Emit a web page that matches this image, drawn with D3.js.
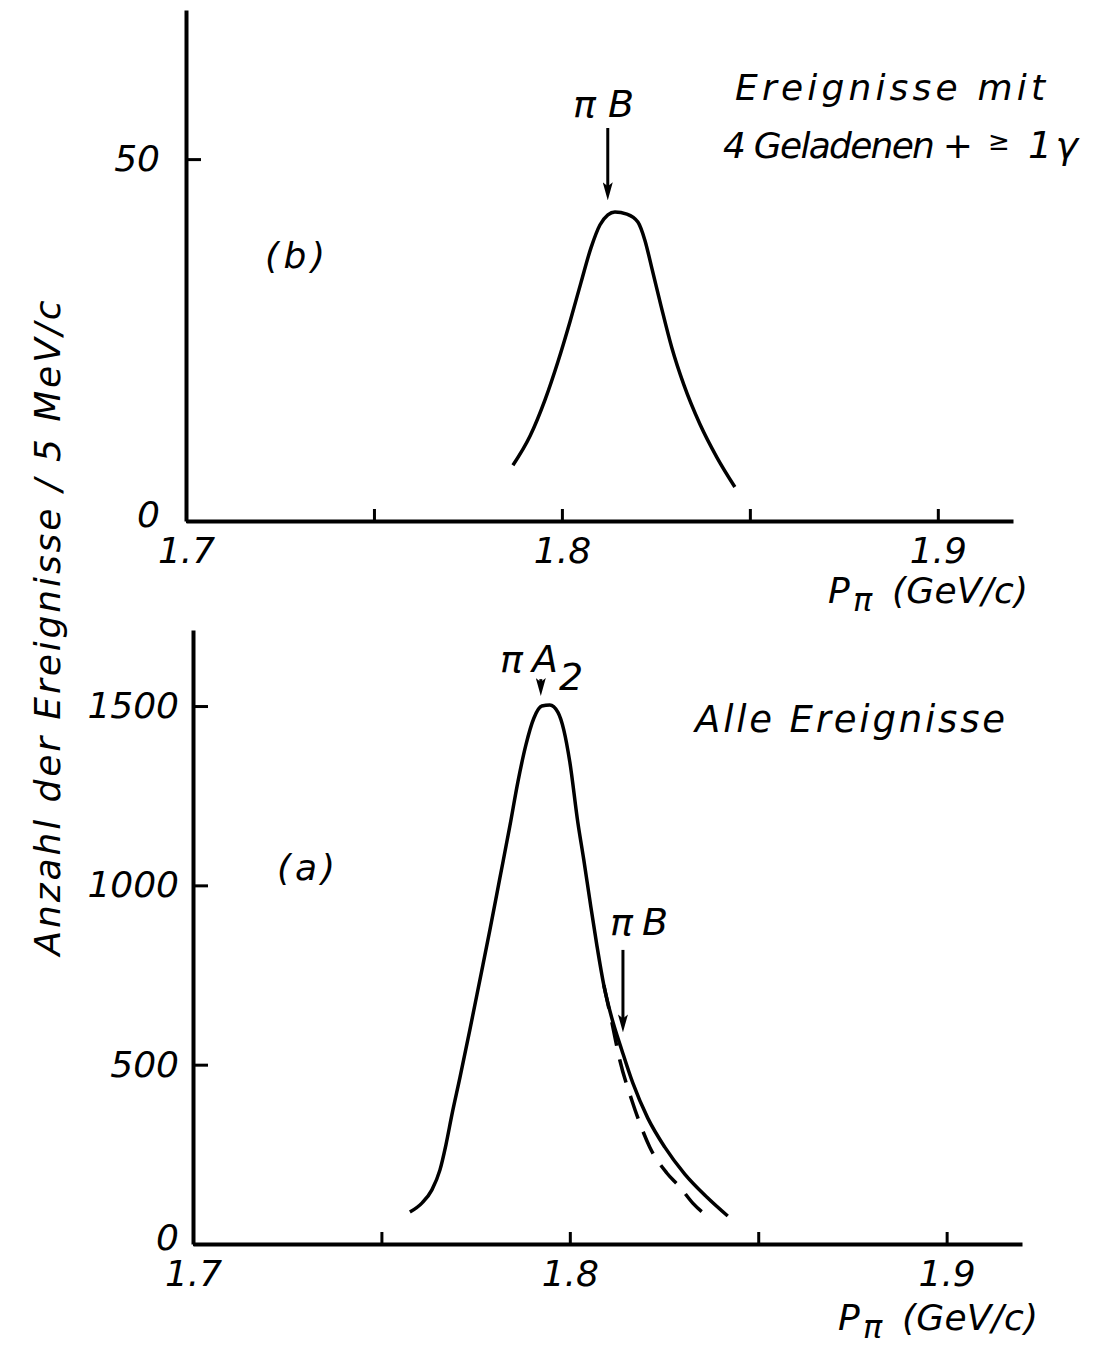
<!DOCTYPE html>
<html>
<head>
<meta charset="utf-8">
<script src="https://cdn.jsdelivr.net/npm/d3@7"></script>
<style>
  body { margin: 0; background: #fff; }
  text { font-family: "DejaVu Sans", sans-serif; font-style: italic; fill: #000; }
</style>
</head>
<body>
<svg id="chart" width="1119" height="1349"></svg>
<script>
// panel (b): events with 4 charged + >= 1 gamma
const momB = [1.78697, 1.79149, 1.79548, 1.79894, 1.80213, 1.80505, 1.80771, 1.81011, 1.81223, 1.8141, 1.81729, 1.82021, 1.82207, 1.82394, 1.82633, 1.82926, 1.83245, 1.8367, 1.84122, 1.84601]
const countB = [7.7, 11.7, 16.7, 22.0, 27.5, 32.9, 37.7, 40.9, 42.3, 42.7, 42.4, 41.3, 38.8, 34.9, 29.8, 23.9, 18.8, 13.4, 8.8, 4.7]

// panel (a): all events, solid = total
const momA = [1.75756, 1.76074, 1.7634, 1.76552, 1.76711, 1.7687, 1.77082, 1.77347, 1.77613, 1.77878, 1.78143, 1.78408, 1.78621, 1.78833, 1.79045, 1.79257, 1.79469, 1.79682, 1.79841, 1.8, 1.80212, 1.80371, 1.80531, 1.80716, 1.80902, 1.81114, 1.81379, 1.81671, 1.82069, 1.8252, 1.8305, 1.83634, 1.84191]
const countA = [89, 114, 151, 206, 276, 360, 463, 597, 736, 875, 1020, 1165, 1288, 1391, 1466, 1500, 1503, 1483, 1433, 1344, 1176, 1071, 959, 834, 722, 630, 541, 449, 351, 270, 195, 131, 78]
// dashed = without pi B
const momA2 = [1.80902, 1.81114, 1.81326, 1.81645, 1.81857, 1.82122, 1.82573, 1.82918, 1.83263, 1.83793]
const countA2 = [722, 619, 513, 401, 337, 270, 198, 159, 114, 67]

const xTicks = [1.7, 1.75, 1.8, 1.85, 1.9]
const xLabels = ["1.7", "", "1.8", "", "1.9"]
const yTicksB = [0, 50]
const yTicksA = [0, 500, 1000, 1500]

// arrows: momentum, from count, to count
const arrowsB = [{m: 1.8122, from: 54.3, to: 44.3}]
const arrowsA = [{m: 1.7923, from: 1575, to: 1528}, {m: 1.8141, from: 820, to: 590}]

const svg = d3.select("#chart")

svg.append("defs").append("marker")
  .attr("id", "head")
  .attr("viewBox", "0 0 18 10")
  .attr("refX", 6).attr("refY", 5)
  .attr("markerWidth", 18).attr("markerHeight", 10)
  .attr("markerUnits", "userSpaceOnUse")
  .attr("orient", "auto")
  .append("path")
  .attr("d", "M0,0 L18,5 L0,10 L4,5 Z")
  .attr("fill", "#000")

function drawPanel(o) {
  const x = d3.scaleLinear().domain([1.7, 1.92]).range(o.xr)
  const y = d3.scaleLinear().domain([0, o.ymax]).range(o.yr)

  const xAxis = svg.append("g")
    .attr("transform", `translate(0,${o.yr[0]})`)
    .call(d3.axisBottom(x).tickValues(xTicks)
      .tickFormat((d, i) => xLabels[i]).tickSize(-12).tickSizeOuter(0).tickPadding(16))
  const yAxis = svg.append("g")
    .attr("transform", `translate(${o.xr[0]},0)`)
    .call(d3.axisLeft(y).tickValues(o.yTicks).tickFormat(d3.format("d"))
      .tickSize(-15).tickSizeOuter(0).tickPadding(o.ypad))

  for (let ax of [xAxis, yAxis]) {
    ax.select(".domain").attr("stroke-width", 4)
    ax.selectAll(".tick line").attr("stroke-width", 3)
    ax.selectAll("text")
      .attr("font-size", 36)
      .attr("font-family", "DejaVu Sans")
      .style("font-style", "italic")
  }
  // zero label sits a bit above the axis in the original
  yAxis.selectAll(".tick text").filter(d => d == 0).attr("y", -6)

  const line = d3.line()
    .x(d => x(d[0]))
    .y(d => y(d[1]))
    .curve(d3.curveMonotoneX)

  for (let s of o.series) {
    svg.append("path")
      .datum(d3.zip(s.m, s.c))
      .attr("d", line)
      .attr("fill", "none")
      .attr("stroke", "#000")
      .attr("stroke-width", s.w)
      .attr("stroke-dasharray", s.dash)
  }

  for (let a of o.arrows) {
    svg.append("line")
      .attr("x1", x(a.m)).attr("x2", x(a.m))
      .attr("y1", y(a.from)).attr("y2", y(a.to) - 12)
      .attr("stroke", "#000").attr("stroke-width", 3)
      .attr("marker-end", "url(#head)")
  }
  return {x, y}
}

drawPanel({
  xr: [186, 1013], yr: [521, 10], ymax: 70.6, yTicks: yTicksB, ypad: 26,
  series: [{m: momB, c: countB, w: 3.5, dash: null}],
  arrows: arrowsB
})

drawPanel({
  xr: [193, 1022], yr: [1244, 630], ymax: 1712, yTicks: yTicksA, ypad: 14,
  series: [
    {m: momA, c: countA, w: 3.5, dash: null},
    {m: momA2, c: countA2, w: 3.5, dash: "24,14"}
  ],
  arrows: arrowsA
})

// labels
function label(txt, x, y, size, len) {
  const t = svg.append("text").attr("x", x).attr("y", y)
    .attr("font-size", size).text(txt)
  if (len) t.attr("textLength", len).attr("lengthAdjust", "spacing")
  return t
}

label("\u03c0 B", 573, 117, 38)
label("Ereignisse  mit", 735, 100, 36, 310)
label("4 Geladenen +", 723, 158, 36, 250)
label("\u2265", 988, 150, 26)
label("1\u03b3", 1028, 158, 38, 50)
label("(b)", 265, 268, 36, 60)

label("(a)", 277, 880, 36, 58)
label("Alle Ereignisse", 695, 732, 37, 310)
label("\u03c0B", 610, 935, 38, 58)

label("\u03c0A", 500, 672, 38, 58)
label("2", 559, 690, 38)

function pLabel(x, y) {
  label("P", x, y, 36)
  label("\u03c0", x + 25, y + 8, 32)
  label("(GeV/c)", x + 64, y, 36, 136)
}
pLabel(828, 603)
pLabel(838, 1330)

svg.append("text")
  .attr("transform", "translate(60,628) rotate(-90)")
  .attr("text-anchor", "middle")
  .attr("font-size", 36)
  .attr("textLength", 655).attr("lengthAdjust", "spacing")
  .text("Anzahl der Ereignisse / 5 MeV/c")
</script>
</body>
</html>
